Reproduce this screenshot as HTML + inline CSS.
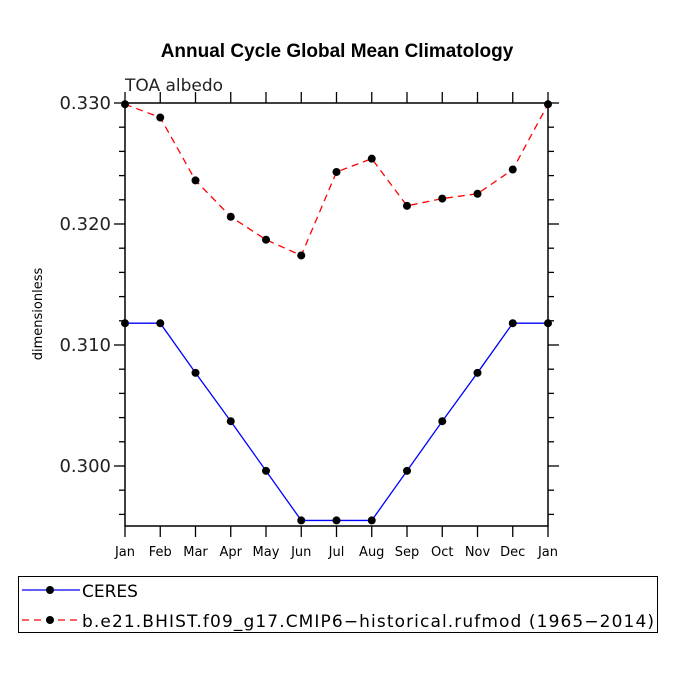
<!DOCTYPE html>
<html><head><meta charset="utf-8"><style>
body{margin:0;background:#fff}
svg text{font-family:"DejaVu Sans","Liberation Sans",sans-serif}
</style></head><body>
<svg width="675" height="675" viewBox="0 0 675 675">
<text x="337" y="57" text-anchor="middle" font-weight="bold" font-size="19" style="font-family:'Liberation Sans',sans-serif">Annual Cycle Global Mean Climatology</text>
<text x="125" y="91" font-size="17" fill="#222">TOA albedo</text>
<text transform="translate(42,314) rotate(-90)" text-anchor="middle" font-size="13">dimensionless</text>
<g id="axes"></g>
<g id="series"></g>
<g>
<rect x="18.5" y="576.5" width="639" height="56" fill="none" stroke="#000" stroke-width="1"/>
<line x1="22" y1="590" x2="80" y2="590" stroke="#00f" stroke-width="1.3"/>
<circle cx="50" cy="590" r="4" fill="#000"/>
<text x="82" y="597" font-size="17">CERES</text>
<line x1="22" y1="620" x2="80" y2="620" stroke="#f00" stroke-width="1.3" stroke-dasharray="7,5"/>
<circle cx="50" cy="620" r="4" fill="#000"/>
<text x="82" y="627" font-size="17" textLength="572">b.e21.BHIST.f09_g17.CMIP6−historical.rufmod (1965−2014)</text>
</g>
</svg>
<script>
const months=["Jan","Feb","Mar","Apr","May","Jun","Jul","Aug","Sep","Oct","Nov","Dec","Jan"];
const ceres=[0.3118,0.3118,0.3077,0.3037,0.2996,0.2955,0.2955,0.2955,0.2996,0.3037,0.3077,0.3118,0.3118];
const model=[0.3299,0.3288,0.3236,0.3206,0.3187,0.3174,0.3243,0.3254,0.3215,0.3221,0.3225,0.3245,0.3299];
const yTicks=[0.300,0.310,0.320,0.330];
const yTickLabels=["0.300","0.310","0.320","0.330"];
const X0=125,X1=548,Y0=526,Y1=103,YMIN=0.29504,YMAX=0.330;
const NS="http://www.w3.org/2000/svg";
function xs(i){return X0+(X1-X0)*i/(months.length-1);}
function ys(v){return Y0-(v-YMIN)/(YMAX-YMIN)*(Y0-Y1);}
function mk(tag,attrs,parent){const e=document.createElementNS(NS,tag);for(const k in attrs)e.setAttribute(k,attrs[k]);parent.appendChild(e);return e;}
const ax=document.getElementById('axes');
const frame=mk('rect',{x:X0,y:Y1,width:X1-X0,height:Y0-Y1,fill:'none',stroke:'#000','stroke-width':1.5},ax);


months.forEach((m,i)=>{const x=xs(i);
mk('line',{x1:x,y1:Y0,x2:x,y2:Y0+11,stroke:'#000','stroke-width':1.3},ax);
mk('line',{x1:x,y1:Y1,x2:x,y2:Y1-11,stroke:'#000','stroke-width':1.3},ax);
const t=mk('text',{x:x,y:Y0+30,'text-anchor':'middle','font-size':'13'},ax);t.textContent=m;


});
for(let v=0.296;v<=0.3301;v+=0.002){const y=ys(v);const major=Math.abs((v*1000)%10)<0.01||Math.abs((v*1000)%10-10)<0.01;const L=major?11:6;
mk('line',{x1:X0-L,y1:y,x2:X0,y2:y,stroke:'#000','stroke-width':1.3},ax);
mk('line',{x1:X1,y1:y,x2:X1+L,y2:y,stroke:'#000','stroke-width':1.3},ax);}
yTicks.forEach((v,i)=>{const t=mk('text',{x:X0-14,y:ys(v)+6,'text-anchor':'end','font-size':'18',fill:'#222'},ax);t.textContent=yTickLabels[i];

});
const sg=document.getElementById('series');
function draw(arr,color,dash,name){
const p=mk('polyline',{points:arr.map((v,i)=>xs(i)+','+ys(v)).join(' '),fill:'none',stroke:color,'stroke-width':1.3,'stroke-dasharray':dash},sg);


arr.forEach((v,i)=>{const c=mk('circle',{cx:xs(i),cy:ys(v),r:4,fill:'#000'},sg);

});}
draw(ceres,'#00f','none','ceres');
draw(model,'#f00','7,5','model');
</script>
</body></html>
